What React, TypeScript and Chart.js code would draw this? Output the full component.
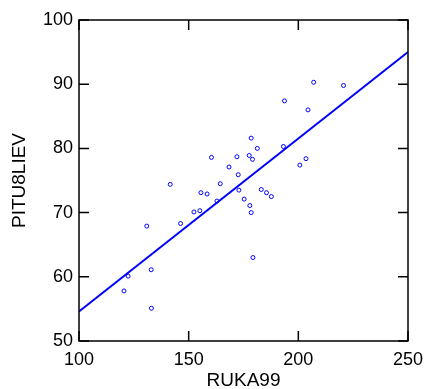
import React, { useEffect, useRef } from "react";
import { Chart, registerables } from "chart.js";

Chart.register(...registerables);

const ruka99: number[] = [
  207.0, 220.6, 193.7, 204.4, 178.5, 181.3, 193.2, 203.5, 200.7, 160.4,
  172.0, 177.6, 179.1, 168.4, 172.6, 141.6, 164.4, 155.6, 158.4, 162.9,
  172.9, 183.1, 185.5, 187.7, 175.3, 177.9, 178.5, 152.4, 155.1, 146.3,
  130.9, 179.3, 132.9, 122.4, 120.5, 133.0,
];
const pitu8liev: number[] = [
  90.3, 89.8, 87.4, 86.0, 81.6, 80.0, 80.3, 78.4, 77.4, 78.6,
  78.7, 78.9, 78.3, 77.1, 75.9, 74.4, 74.5, 73.1, 72.9, 71.8,
  73.5, 73.6, 73.1, 72.5, 72.1, 71.1, 70.0, 70.1, 70.3, 68.3,
  67.9, 63.0, 61.1, 60.1, 57.8, 55.1,
];
const fitX: number[] = [100, 250];
const fitY: number[] = [54.6, 95.0];
const xTicks: number[] = [100, 150, 200, 250];
const yTicks: number[] = [50, 60, 70, 80, 90, 100];

const FONT = "'Liberation Sans', Arial, sans-serif";

const framePlugin = {
  id: "frameTicks",
  afterDatasetsDraw(chart: any) {
    const { ctx, chartArea, scales } = chart;
    const { left, right, top, bottom } = chartArea;
    ctx.save();
    ctx.strokeStyle = "#000";
    ctx.lineWidth = 1.5;
    ctx.strokeRect(left, top, right - left, bottom - top);
    const L = 10;
    ctx.beginPath();
    xTicks.forEach((v) => {
      const px = scales.x.getPixelForValue(v);
      ctx.moveTo(px, bottom);
      ctx.lineTo(px, bottom - L);
      ctx.moveTo(px, top);
      ctx.lineTo(px, top + L);
    });
    yTicks.forEach((v) => {
      const py = scales.y.getPixelForValue(v);
      ctx.moveTo(left, py);
      ctx.lineTo(left + L, py);
      ctx.moveTo(right, py);
      ctx.lineTo(right - L, py);
    });
    ctx.stroke();
    ctx.restore();
  },
};

export default function App() {
  const ref = useRef<HTMLCanvasElement | null>(null);
  useEffect(() => {
    if (!ref.current) return;
    const points = ruka99.map((x, i) => ({ x, y: pitu8liev[i] }));
    const fit = fitX.map((x, i) => ({ x, y: fitY[i] }));
    const chart = new Chart(ref.current, {
      type: "scatter",
      data: {
        datasets: [
          {
            data: points,
            pointStyle: "circle",
            pointRadius: 2,
            pointBorderWidth: 1,
            borderColor: "#0000ff",
            backgroundColor: "rgba(0,0,0,0)",
            showLine: false,
          },
          {
            type: "line",
            data: fit,
            borderColor: "#0000ff",
            borderWidth: 2,
            pointRadius: 0,
            showLine: true,
            fill: false,
          } as any,
        ],
      },
      options: {
        animation: false,
        responsive: true,
        maintainAspectRatio: false,
        layout: { padding: { top: 20, right: 17, left: 0, bottom: 0 } },
        plugins: { legend: { display: false }, tooltip: { enabled: false } },
        scales: {
          x: {
            type: "linear",
            min: 100,
            max: 250,
            afterBuildTicks: (s: any) => {
              s.ticks = xTicks.map((v) => ({ value: v }));
            },
            ticks: {
              color: "#000",
              font: { family: FONT, size: 18 },
              padding: 8,
              maxRotation: 0,
            },
            grid: { display: false, drawTicks: false },
            border: { display: false },
            title: {
              display: true,
              text: "RUKA99",
              color: "#000",
              font: { family: FONT, size: 19 },
              padding: { top: 0, bottom: -3 },
            },
            afterFit: (s: any) => {
              s.height = 48;
              s.paddingLeft = 0;
              s.paddingRight = 0;
            },
          },
          y: {
            type: "linear",
            min: 50,
            max: 100,
            afterBuildTicks: (s: any) => {
              s.ticks = yTicks.map((v) => ({ value: v }));
            },
            ticks: {
              color: "#000",
              font: { family: FONT, size: 18 },
              padding: 6,
            },
            grid: { display: false, drawTicks: false },
            border: { display: false },
            title: {
              display: true,
              text: "PITU8LIEV",
              color: "#000",
              font: { family: FONT, size: 19 },
              padding: { top: 8, bottom: 0 },
            },
            afterFit: (s: any) => {
              s.width = 79;
              s.paddingTop = 0;
              s.paddingBottom = 0;
            },
          },
        },
      },
      plugins: [framePlugin],
    });
    return () => chart.destroy();
  }, []);
  return (
    <div style={{ position: "fixed", left: 0, top: 0, width: 425, height: 389, background: "#fff" }}>
      <canvas ref={ref} />
    </div>
  );
}
